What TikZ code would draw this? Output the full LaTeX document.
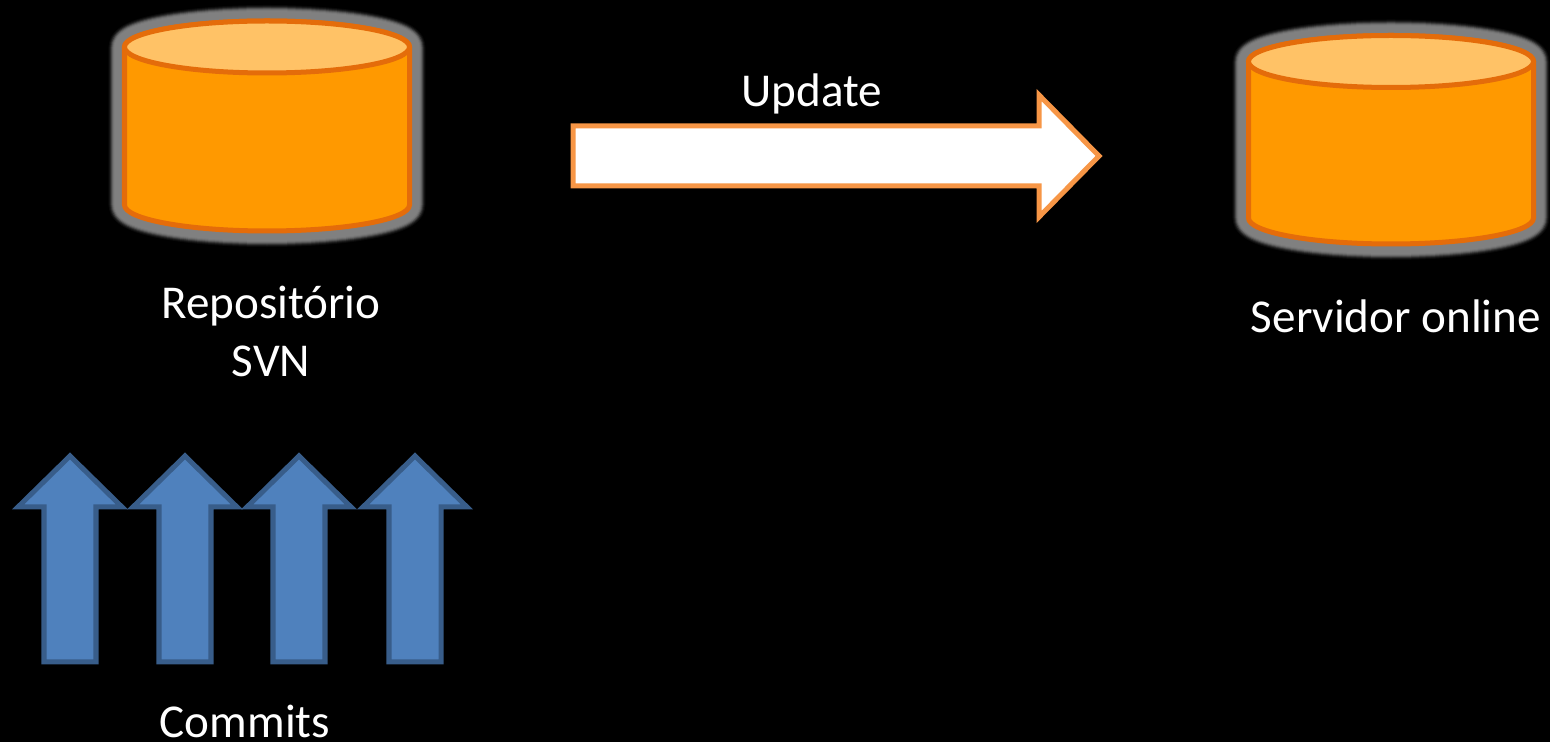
\documentclass[tikz,border=0pt]{standalone}
\usepackage{fontspec}
\setmainfont{Carlito}
\definecolor{cylfill}{HTML}{FF9900}
\definecolor{cyltop}{HTML}{FFC266}
\definecolor{cylline}{HTML}{E46C0A}
\definecolor{updline}{HTML}{F79646}
\definecolor{comfill}{HTML}{4F81BD}
\definecolor{comline}{HTML}{385D8A}
\newcommand{\px}{0.2845pt}
% cylinder: centre x, centre y of the top ellipse, half width, height
\newcommand{\cyl}[4]{
   \foreach \g/\w in {4/32,10/30,20/28,32/26,42/24,48/22,50/20}
      \draw[line width=\w*\px,draw=white!\g!black,line join=round] (#1-#3,#2) -- (#1-#3,#2-#4) arc[start angle=180,end angle=360,x radius=#3,y radius=26] -- (#1+#3,#2) arc[start angle=0,end angle=180,x radius=#3,y radius=26] -- cycle;
   \filldraw[cylinder] (#1-#3,#2) -- (#1-#3,#2-#4) arc[start angle=180,end angle=360,x radius=#3,y radius=26] -- (#1+#3,#2) arc[start angle=0,end angle=180,x radius=#3,y radius=26] -- cycle;
   \filldraw[cylinder,fill=cyltop] (#1,#2) ellipse[x radius=#3,y radius=26];
}
\tikzset{
   cylinder/.style={draw=cylline,fill=cylfill,line width=5*\px},
   label/.style={text=white,font=\fontsize{13.4pt}{16.5pt}\selectfont,align=center,inner sep=0pt},
   commit/.style={draw=comline,fill=comfill,line width=5*\px},
   update/.style={draw=updline,fill=white,line width=5*\px}
}
\begin{document}
\begin{tikzpicture}[x=0.01cm,y=0.01cm]
   \fill[black] (0,0) rectangle (1550,742);
   \cyl{267}{695}{142.5}{158}
   \cyl{1391}{680.5}{142.5}{156.5}
   \filldraw[update] (573,616) -- (1039,616) -- (1039,647) -- (1099,586) -- (1039,525) -- (1039,556) -- (573,556) -- cycle;
   \foreach \x in {70,185,299,415}
      \filldraw[commit] (\x-26,80) -- (\x-26,235) -- (\x-52,235) -- (\x,286) -- (\x+52,235) -- (\x+26,235) -- (\x+26,80) -- cycle;
   \node[label] (update) at (812,648) {Update};
   \node[label] (repo) at (271,411) {Repositório\\SVN};
   \node[label] (server) at (1396,426) {Servidor online};
   \node[label] (commits) at (245,21) {Commits};
\end{tikzpicture}
\end{document}
